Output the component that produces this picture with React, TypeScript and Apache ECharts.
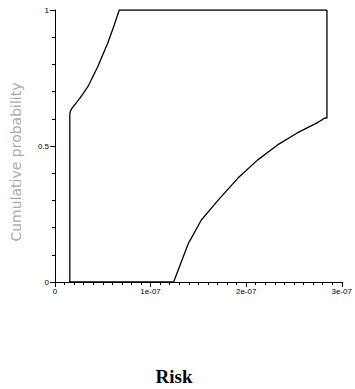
import React, { useEffect, useRef } from "react";
import * as echarts from "echarts";

const xTicks = [0, 1e-7, 2e-7, 3e-7];
const xTickLabels = ["0", "1e-07", "2e-07", "3e-07"];
const yTickLabels = ["0", "0.5", "1"];

// Left (upper) bound of the p-box: [risk, cumulative probability]
const leftX = [1.55e-8, 1.55e-8, 1.7e-8, 1.89e-8, 2.59e-8, 3.44e-8, 4.48e-8, 5.51e-8, 6.2e-8, 6.72e-8, 2.845e-7];
const leftY = [0, 0.621, 0.635, 0.644, 0.675, 0.718, 0.792, 0.878, 0.945, 1, 1];

// Right (lower) bound of the p-box
const rightX = [1.55e-8, 1.241e-7, 1.397e-7, 1.531e-7, 1.707e-7, 1.914e-7, 2.121e-7, 2.328e-7, 2.534e-7, 2.741e-7, 2.824e-7, 2.845e-7, 2.845e-7];
const rightY = [0, 0, 0.143, 0.228, 0.301, 0.382, 0.449, 0.504, 0.548, 0.585, 0.603, 0.603, 1];

export default function App() {
  const ref = useRef<HTMLDivElement>(null);
  useEffect(() => {
    if (!ref.current) return;
    const chart = echarts.init(ref.current, null, { renderer: "svg" });
    const left = leftX.map((x, i) => [x, leftY[i]]);
    const right = rightX.map((x, i) => [x, rightY[i]]);
    chart.setOption({
      animation: false,
      backgroundColor: "#fff",
      grid: { left: 55, right: 10, top: 10, bottom: 107, containLabel: false },
      xAxis: {
        type: "value",
        min: 0,
        max: 3e-7,
        interval: 1e-7,
        axisLine: { show: true, lineStyle: { color: "#000", width: 1 } },
        axisTick: { show: true, length: 5, lineStyle: { color: "#000", width: 1 } },
        minorTick: { show: true, splitNumber: 10, length: 3, lineStyle: { color: "#000", width: 1 } },
        splitLine: { show: false },
        axisLabel: {
          color: "#000",
          fontSize: 8,
          fontFamily: "Liberation Sans",
          margin: 5,
          formatter: (v: number) => {
            const idx = xTicks.findIndex((t) => Math.abs(t - v) < 1e-12);
            return idx >= 0 ? xTickLabels[idx] : "";
          },
        },
      },
      yAxis: {
        type: "value",
        min: 0,
        max: 1,
        interval: 0.5,
        axisLine: { show: true, lineStyle: { color: "#000", width: 1 } },
        axisTick: { show: true, length: 5, lineStyle: { color: "#000", width: 1 } },
        minorTick: { show: true, splitNumber: 5, length: 3, lineStyle: { color: "#000", width: 1 } },
        splitLine: { show: false },
        axisLabel: {
          color: "#000",
          fontSize: 8,
          fontFamily: "Liberation Sans",
          margin: 6,
          formatter: (v: number) => yTickLabels[Math.round(v * 2)] ?? "",
        },
      },
      graphic: [
        {
          type: "text",
          x: 16,
          y: 162,
          rotation: Math.PI / 2,
          style: {
            text: "Cumulative probability",
            fill: "#aaaaaa",
            fontSize: 14,
            fontFamily: "DejaVu Sans",
            align: "center",
            verticalAlign: "middle",
          },
        },
        {
          type: "text",
          x: 174,
          y: 376,
          style: {
            text: "Risk",
            fill: "#000",
            fontSize: 19,
            fontWeight: "bold",
            fontFamily: "Liberation Serif",
            align: "center",
            verticalAlign: "middle",
          },
        },
      ],
      series: [
        {
          type: "line",
          data: left,
          showSymbol: false,
          lineStyle: { color: "#000", width: 1.3 },
          silent: true,
        },
        {
          type: "line",
          data: right,
          showSymbol: false,
          lineStyle: { color: "#000", width: 1.3 },
          silent: true,
        },
      ],
    });
    return () => chart.dispose();
  }, []);
  return <div ref={ref} style={{ width: 355, height: 389, position: "absolute", left: 0, top: 0 }} />;
}
